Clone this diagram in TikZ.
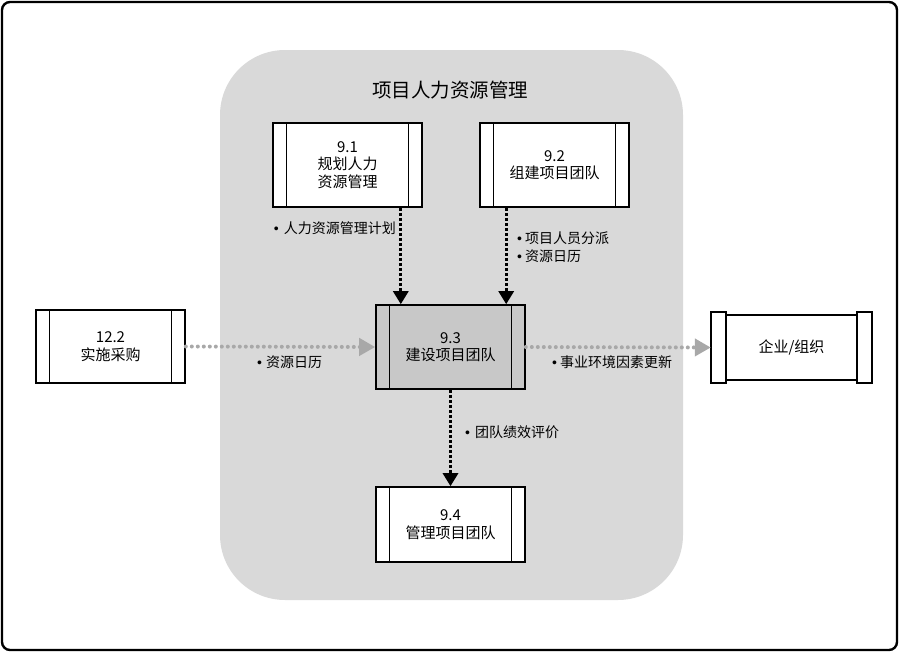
\documentclass[tikz,border=0pt]{standalone}
\usepackage{fontspec}
\setmainfont{Noto Sans CJK SC}
\newfontfamily\latinfont{Liberation Sans}
\usetikzlibrary{arrows,arrows.meta,positioning}
\tikzset{>=latex}
\definecolor{regiongray}{RGB}{217,217,217}
\definecolor{developgray}{RGB}{200,200,200}
\definecolor{flowgray}{RGB}{168,168,168}

\begin{document}
\begin{tikzpicture}[x=1pt,y=-1pt,
        process/.style={draw,line width=1.6pt,fill=white,minimum width=149pt,inner sep=0pt,align=center,font=\fontsize{15}{17.5}\selectfont},
        lbl/.style={inner sep=0pt,align=left,font=\fontsize{14}{18}\selectfont},
        blackflow/.style={line width=3pt,dash pattern=on 3pt off 2pt,-{Triangle[length=13pt,width=15pt]}},
        grayflow/.style={draw=flowgray,line width=4pt,line cap=round,dash pattern=on 0pt off 6pt,-{Triangle[length=16pt,width=17pt,fill=flowgray,line cap=butt]}}]

        \useasboundingbox (0,0) rectangle (900,653);

        % frame and region
        \draw[line width=2.4pt,rounded corners=8pt] (2,2) rectangle (897,650);
        \fill[regiongray,rounded corners=65pt] (220,50) rectangle (683,600);
        \node[font=\fontsize{19.5}{22}\selectfont] (title) at (450,90) {项目人力资源管理};

        % nodes
        \node[process,minimum height=84pt] (plan) at (347.5,165) {9.1\\规划人力\\资源管理};
        \node[process,minimum height=84pt] (acquire) at (554.5,165) {9.2\\组建项目团队};
        \node[process,minimum height=84pt,fill=developgray] (develop) at (450.5,347) {9.3\\建设项目团队};
        \node[process,minimum height=73pt] (procure) at (110.5,346.5) {12.2\\实施采购};
        \node[process,minimum height=75pt] (manage) at (450.5,524.5) {9.4\\管理项目团队};
        \node[minimum width=161pt,minimum height=71pt,inner sep=0pt,font=\fontsize{15}{17.5}\selectfont] (org) at (791.5,347.5) {企业/组织};

        \foreach \n in {plan,acquire,develop,procure,manage} {
            \draw[line width=1.2pt] ([xshift=14pt]\n.north west) -- ([xshift=14pt]\n.south west);
            \draw[line width=1.2pt] ([xshift=-14pt]\n.north east) -- ([xshift=-14pt]\n.south east);
        }
        \draw[line width=1.6pt] ([yshift=-3pt]org.north west) rectangle ([yshift=3pt]org.south east);
        \draw[line width=1.6pt,fill=white] (org.north west) rectangle ([xshift=15pt]org.south west);
        \draw[line width=1.6pt,fill=white] (org.north east) rectangle ([xshift=-15pt]org.south east);

        % labels
        \node[lbl,anchor=east] (lplan) at (396,228) {{\latinfont •}\hspace{5pt}人力资源管理计划};
        \node[lbl,anchor=north west] (lacquire) at (517,232) {{\latinfont •}\hspace{3pt}项目人员分派\\{\latinfont •}\hspace{3pt}资源日历};
        \node[lbl,anchor=west] (lprocure) at (257,362) {{\latinfont •}\hspace{4pt}资源日历};
        \node[lbl,anchor=west] (lorg) at (552,362) {{\latinfont •}\hspace{3pt}事业环境因素更新};
        \node[lbl,anchor=west] (lmanage) at (465,432) {{\latinfont •}\hspace{5pt}团队绩效评价};

        % arrows
        \draw[blackflow] ([xshift=-22pt]plan.south east) -- ([xshift=-22pt]plan.south east |- develop.north);
        \draw[blackflow] ([xshift=27pt]acquire.south west) -- ([xshift=27pt]acquire.south west |- develop.north);
        \draw[blackflow] (develop.south) -- (manage.north);
        \draw[grayflow] (procure.east) -- (develop.west);
        \draw[grayflow] (develop.east) -- (org.west);

    \end{tikzpicture}
\end{document}
